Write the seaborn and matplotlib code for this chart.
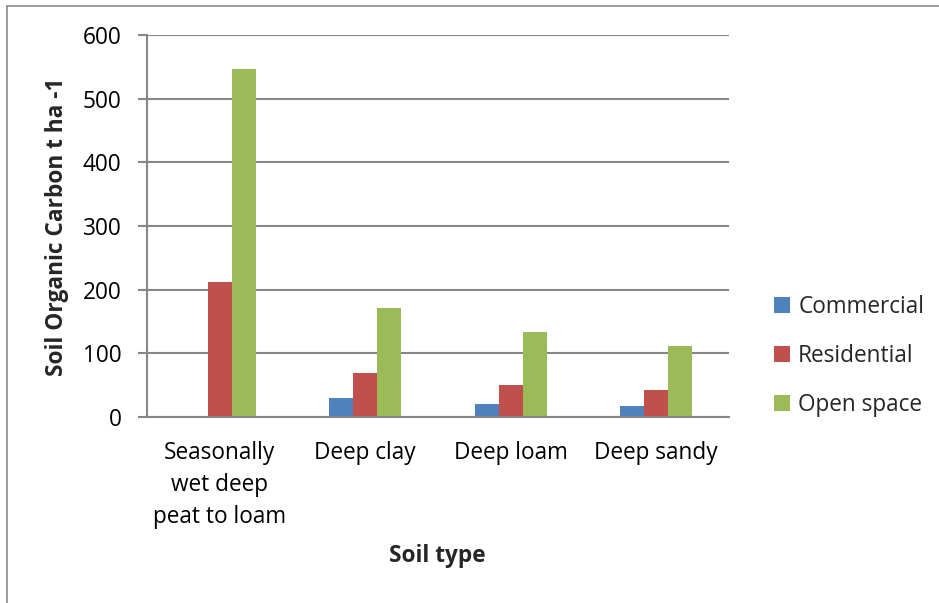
import matplotlib
matplotlib.use("Agg")
import matplotlib.pyplot as plt
from matplotlib.lines import Line2D
from matplotlib.patches import Patch
import seaborn as sns
import pandas as pd

# Chart data
soil_types = ["Seasonally\nwet deep\npeat to loam", "Deep clay", "Deep loam", "Deep sandy"]
land_uses = ["Commercial", "Residential", "Open space"]
commercial = [0, 30, 21, 18]
residential = [212, 69, 50, 42]
open_space = [547, 171, 133, 111]
colors = ["#4F81BD", "#C0504D", "#9BBB59"]
y_ticks = [0, 100, 200, 300, 400, 500, 600]

records = []
for use, values in zip(land_uses, [commercial, residential, open_space]):
    for soil, v in zip(soil_types, values):
        records.append({"soil": soil, "land_use": use, "carbon": v})
df = pd.DataFrame(records)

sns.set_theme(style="white")
plt.rcParams["font.family"] = ["Open Sans", "DejaVu Sans"]

FS = 16.3
W, H = 939, 603
fig = plt.figure(figsize=(W / 100, H / 100), dpi=100)
fig.patch.set_facecolor("white")
ax = fig.add_axes([147 / W, 1 - 417 / H, (729 - 147) / W, (417 - 35) / H])

sns.barplot(
    data=df, x="soil", y="carbon", hue="land_use",
    order=soil_types, hue_order=land_uses, palette=colors,
    width=0.495, gap=0, saturation=1, linewidth=0, ax=ax, legend=False,
)

grid_col = "#878787"
ax.set_xlim(-0.5, 3.5)
ax.set_ylim(0, 600)
ax.set_yticks(y_ticks)
ax.yaxis.grid(True, color=grid_col, linewidth=1.5)
ax.set_axisbelow(True)
for side in ["top", "right"]:
    ax.spines[side].set_visible(False)
for side in ["left", "bottom"]:
    ax.spines[side].set_color(grid_col)
    ax.spines[side].set_linewidth(1.5)
ax.tick_params(axis="y", length=6.5, width=1.5, color=grid_col, pad=12,
               labelsize=FS, labelcolor="black", left=True)
ax.tick_params(axis="x", length=0, pad=17, labelsize=FS, labelcolor="black")
for lbl in ax.get_xticklabels():
    lbl.set_linespacing(1.45)
ax.set_xlabel("")
ax.set_ylabel("")

fig.text(57 / W, 1 - 227 / H, "Soil Organic Carbon t ha -1", rotation=90,
         ha="center", va="center", fontsize=FS, fontweight="bold")
fig.text(437 / W, 1 - 556 / H, "Soil type", ha="center", va="center",
         fontsize=FS, fontweight="bold")

handles = [Patch(facecolor=c, edgecolor="none") for c in colors]
fig.legend(handles, land_uses, loc="center left",
           bbox_to_anchor=(774 / W, 1 - 356 / H), frameon=False,
           fontsize=FS, handlelength=0.72, handleheight=0.72,
           handletextpad=0.35, labelspacing=1.1, borderpad=0,
           borderaxespad=0)

# outer chart frame
frame_col = "#8a8a8a"
fig.add_artist(Line2D([7 / W, 7 / W], [0, 1 - 5.5 / H], color=frame_col,
                      linewidth=1.2, transform=fig.transFigure))
fig.add_artist(Line2D([7 / W, 1], [1 - 5.5 / H, 1 - 5.5 / H], color=frame_col,
                      linewidth=1.2, transform=fig.transFigure))

fig.savefig("out.png", dpi=100)
